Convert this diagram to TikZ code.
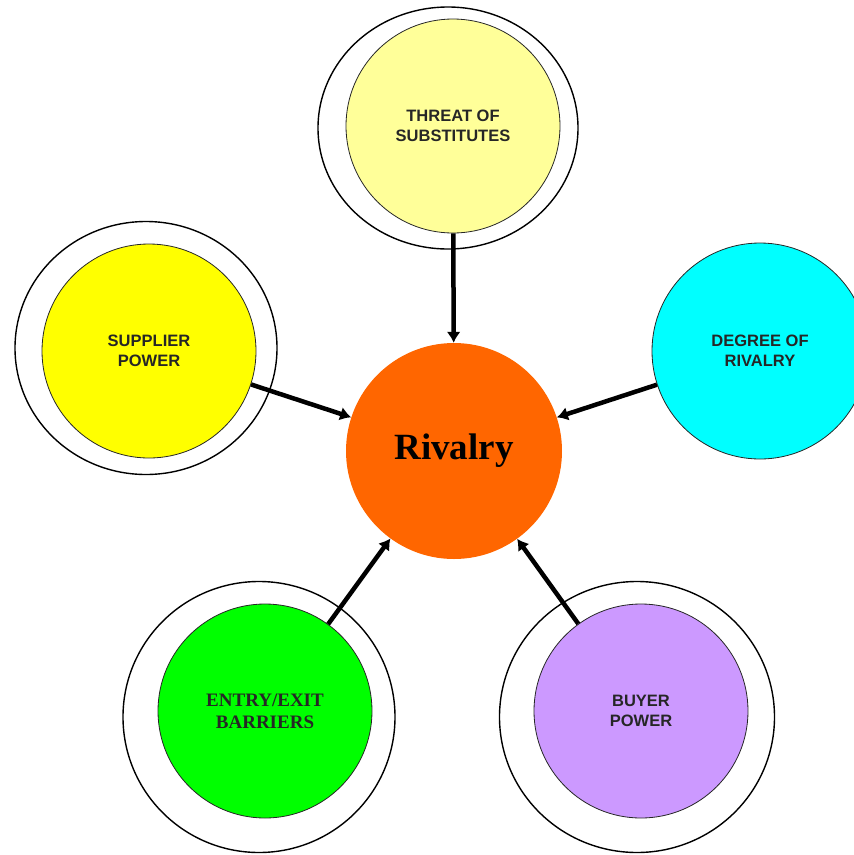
\documentclass[tikz,border=0pt]{standalone}
\usepackage{fontspec}
\setmainfont{Liberation Serif}
\setsansfont{Liberation Sans}
\usetikzlibrary{arrows.meta, shapes.geometric}

\definecolor{paleyellow}{HTML}{FFFF99}
\definecolor{lemon}{HTML}{FFFF00}
\definecolor{aqua}{HTML}{00FFFF}
\definecolor{flame}{HTML}{FF6600}
\definecolor{lime}{HTML}{00FF00}
\definecolor{lilac}{HTML}{CC99FF}

\tikzset{
  force/.style={circle, draw=black!85, line width=0.8pt, minimum size=214pt, inner sep=0pt,
    align=center, text=black!85, font=\sffamily\bfseries\fontsize{16.5}{20}\selectfont},
  ring/.style={ellipse, draw, line width=1.4pt, inner sep=0pt},
}

\begin{document}
\begin{tikzpicture}[x=1pt, y=-1pt, >={Latex[length=11pt,width=14pt]}]
    \clip (0,0) rectangle (854,855);

    % outer rings
    \node[ring, minimum width=260pt, minimum height=242pt] (subring) at (448,128) {};
    \node[ring, minimum width=262pt, minimum height=253pt] (supring) at (146,348) {};
    \node[ring, minimum width=272pt, minimum height=271pt] (entring) at (259,717) {};
    \node[ring, minimum width=275pt, minimum height=271pt] (buyring) at (637,717) {};

    % the five forces
    \node[force, fill=paleyellow] (sub) at (453,126) {THREAT OF\\SUBSTITUTES};
    \node[force, fill=lemon] (sup) at (149,351) {SUPPLIER\\POWER};
    \node[force, fill=aqua, minimum size=216pt] (deg) at (760,351) {DEGREE OF\\RIVALRY};
    \node[force, fill=lime, font=\rmfamily\bfseries\fontsize{19}{22}\selectfont] (ent) at (265,711) {ENTRY/EXIT\\BARRIERS};
    \node[force, fill=lilac] (buy) at (641,711) {BUYER\\POWER};

    \node[circle, fill=flame, minimum size=216pt, inner sep=0pt,
          font=\rmfamily\bfseries\fontsize{37}{40}\selectfont] (riv) at (454,451) {Rivalry};

    \draw[->, line width=4.5pt] (sub) edge (riv)
    (sup) edge (riv)
    (deg) edge (riv)
    (ent) edge (riv)
    (buy) edge (riv);
\end{tikzpicture}
\end{document}
